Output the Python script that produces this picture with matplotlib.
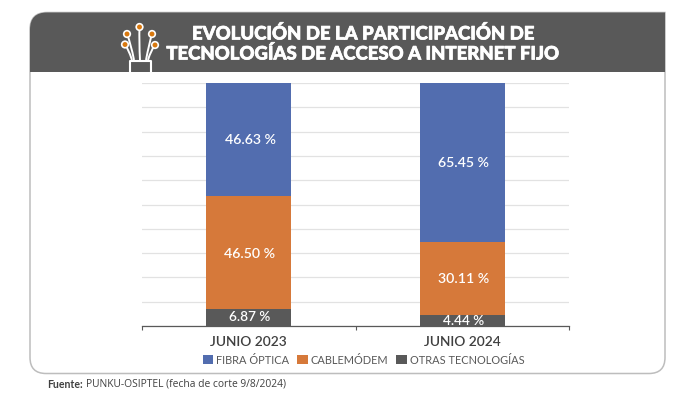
import numpy as np
import matplotlib
matplotlib.use("Agg")
import matplotlib.pyplot as plt
import matplotlib.patheffects as pe
from matplotlib.path import Path
from matplotlib.patches import PathPatch, Circle

plt.rcParams['font.family'] = ['Lato', 'DejaVu Sans']

periodos = ["JUNIO 2023", "JUNIO 2024"]
otras = [6.87, 4.44]
cable = [46.50, 30.11]
fibra = [46.63, 65.45]
otras_lab = ["6.87 %", "4.44 %"]
cable_lab = ["46.50 %", "30.11 %"]
fibra_lab = ["46.63 %", "65.45 %"]

gris = "#595959"
azul = "#526DAF"
naranja = "#D6793A"

W, H = 700, 395
fig = plt.figure(figsize=(W/100, H/100), dpi=100)

# capa de fondo en pixeles
bg = fig.add_axes([0, 0, 1, 1])
bg.set_xlim(0, W)
bg.set_ylim(H, 0)
bg.axis("off")

L, R, T, B, HB = 30, 665, 12.5, 373.5, 72
r = 17
rb = 16
card = Path(
    [(L+r, T), (R, T), (R, B-rb), (R, B), (R-rb, B), (L+rb, B), (L, B), (L, B-rb), (L, T+r), (L, T), (L+r, T)],
    [Path.MOVETO, Path.LINETO, Path.LINETO, Path.CURVE3, Path.CURVE3, Path.LINETO, Path.CURVE3, Path.CURVE3,
     Path.LINETO, Path.CURVE3, Path.CURVE3])
bg.add_patch(PathPatch(card, fc="white", ec="#BDBDBD", lw=1.1))
head = Path(
    [(L, HB), (L, T+r), (L, T), (L+r, T), (R, T), (R, HB), (L, HB)],
    [Path.MOVETO, Path.LINETO, Path.CURVE3, Path.CURVE3, Path.LINETO, Path.LINETO, Path.CLOSEPOLY])
bg.add_patch(PathPatch(head, fc=gris, ec="none"))

# icono de fibra
bg.plot([129.5, 129.5, 150.5, 150.5], [72, 60.5, 60.5, 72], color="white", lw=1.5)
for x0, y0, x1, y1, cx, cy in [(132, 60, 128, 48, 125, 44.5), (134, 60, 131, 44, 127, 34),
                               (140, 60, 139, 42, 139.5, 27), (146, 60, 149, 44, 152, 34),
                               (148, 60, 151, 50, 155, 45)]:
    p = Path([(x0, y0), (x1, y1), (cx, cy)], [Path.MOVETO, Path.CURVE3, Path.CURVE3])
    bg.add_patch(PathPatch(p, fc="none", ec="white", lw=1.4))
    bg.add_patch(Circle((cx, cy), 3.3, fc="#D9790F", ec="white", lw=1.2, zorder=3))

grueso = [pe.withStroke(linewidth=0.5, foreground="white")]
bg.text(362.5, 33.5, "EVOLUCIÓN DE LA PARTICIPACIÓN DE", color="white", fontsize=13.35,
        fontweight="black", ha="center", va="center", path_effects=grueso)
bg.text(362, 53.5, "TECNOLOGÍAS DE ACCESO A INTERNET FIJO", color="white", fontsize=13.35,
        fontweight="black", ha="center", va="center", path_effects=grueso)
bg.text(47, 384, "Fuente:", color="#404040", fontsize=7.6, fontweight="bold", ha="left", va="center")
bg.text(86.5, 384, "PUNKU-OSIPTEL (fecha de corte 9/8/2024)", color="#404040", fontsize=7.4,
        ha="left", va="center", family=["Open Sans", "DejaVu Sans"])

# grafico de barras
ax = fig.add_axes([142/W, 1-326/H, (569-142)/W, (326-83)/H])
ax.patch.set_alpha(0)
x = np.arange(len(periodos))
ancho = 0.4
otras_a = np.array(otras)
cable_a = np.array(cable)
fibra_a = np.array(fibra)
b1 = ax.bar(x, fibra_a, ancho, bottom=otras_a+cable_a, color=azul, label="FIBRA ÓPTICA", zorder=3)
b2 = ax.bar(x, cable_a, ancho, bottom=otras_a, color=naranja, label="CABLEMÓDEM", zorder=3)
b3 = ax.bar(x, otras_a, ancho, color=gris, label="OTRAS TECNOLOGÍAS", zorder=3)

for i in x:
    ax.text(i+0.006, otras[i]+cable[i]+fibra[i]/2-0.3, fibra_lab[i], color="white", fontsize=10.2,
            fontweight="semibold", ha="center", va="center", zorder=4)
    ax.text(i+0.006, otras[i]+cable[i]/2-0.3, cable_lab[i], color="white", fontsize=10.2,
            fontweight="semibold", ha="center", va="center", zorder=4)
    ax.text(i+0.006, otras[i]/2+0.3 if i == 0 else 1.9, otras_lab[i], color="white", fontsize=9.8,
            fontweight="semibold", ha="center", va="center", zorder=4)

ax.set_xlim(-0.5, 1.5)
ax.set_ylim(0, 100)
ax.set_yticks(np.arange(0, 101, 10))
ax.tick_params(axis="y", length=0, labelleft=False)
ax.set_xticks(x)
ax.set_xticklabels(periodos, fontsize=9.9, color="#404040", fontweight="semibold")
ax.set_xticks([-0.5, 0.5, 1.5], minor=True)
ax.tick_params(axis="x", which="major", length=0, pad=7)
ax.tick_params(axis="x", which="minor", length=3, width=0.8, color="#595959", direction="out")
ax.grid(axis="y", color="#E2E2E2", lw=0.9, zorder=0)
for s in ["top", "left", "right"]:
    ax.spines[s].set_visible(False)
ax.spines["bottom"].set_color("#595959")
ax.spines["bottom"].set_linewidth(0.9)

ax.legend(handles=[b1, b2, b3], ncol=3, loc="center", bbox_to_anchor=((363.5-142)/427, (326-360)/243),
          frameon=False, fontsize=7.9, labelcolor="#595959", handlelength=0.95, handleheight=0.95,
          handletextpad=0.3, columnspacing=0.7, borderpad=0)

fig.savefig("out.png", dpi=100)
